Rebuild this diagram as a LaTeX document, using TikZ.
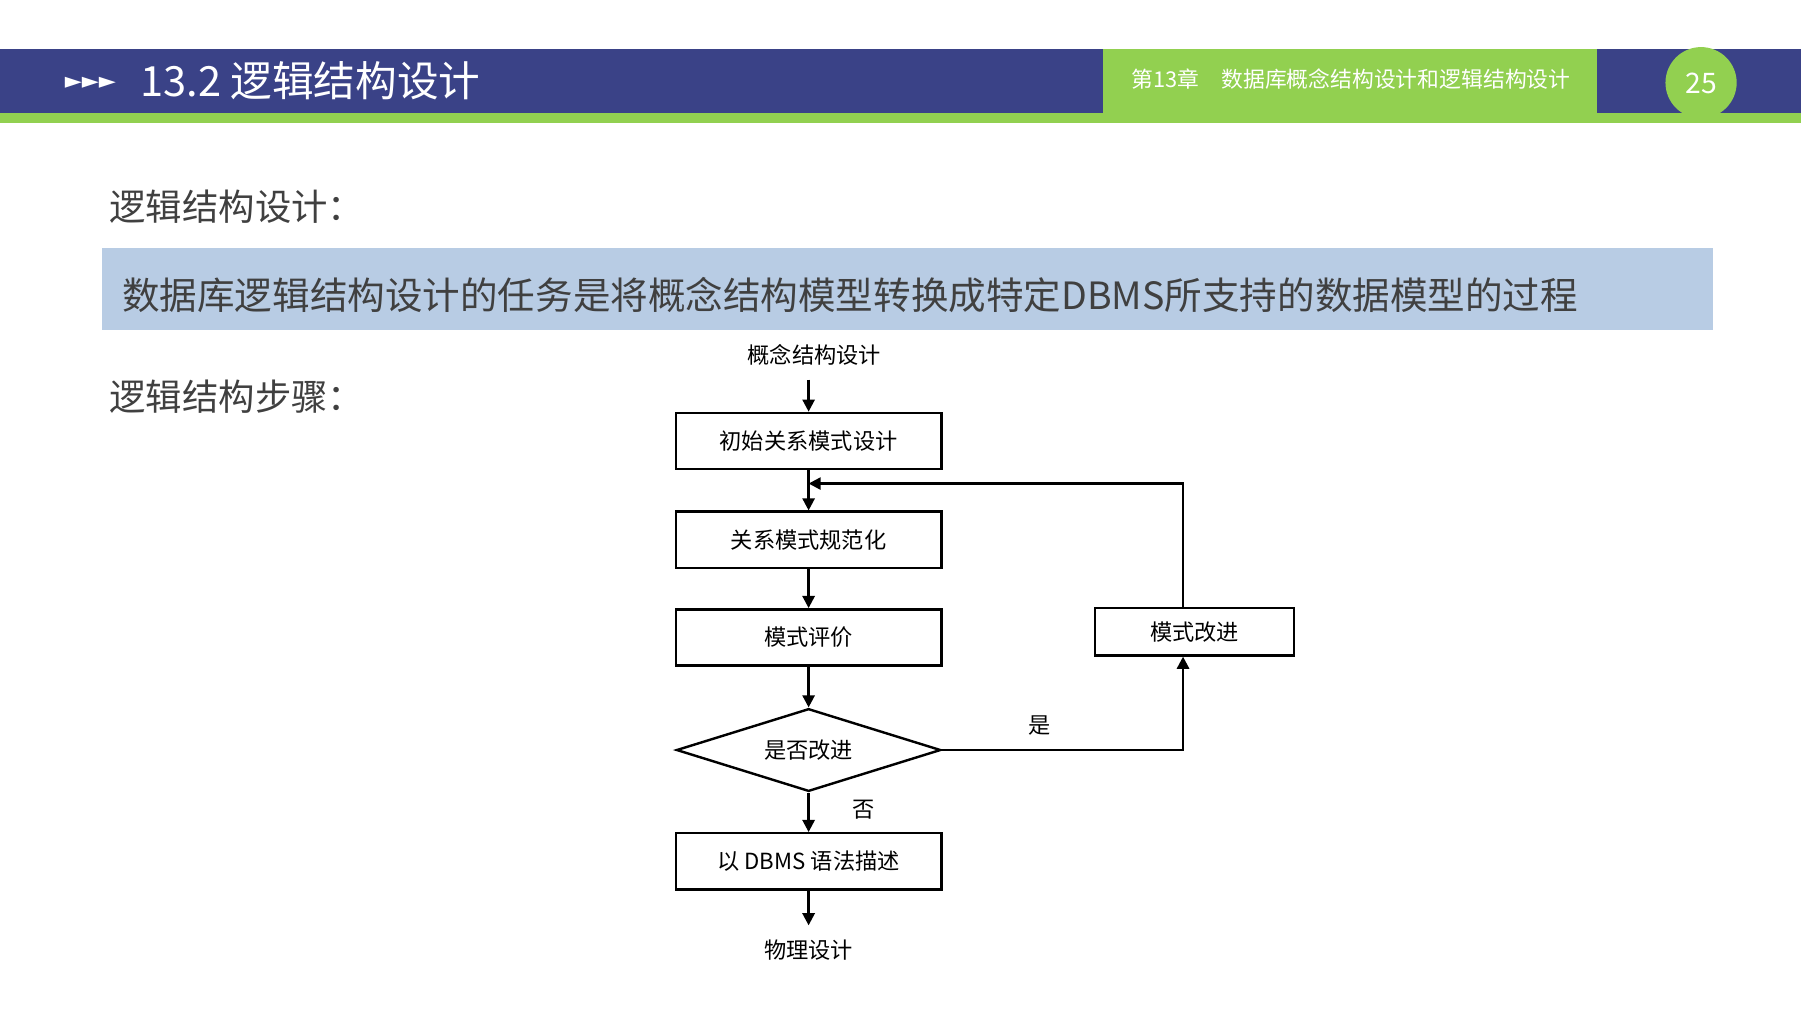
\documentclass[tikz,border=0pt]{standalone}
\usepackage{fontspec}
\setmainfont{Liberation Serif}
\newfontfamily\cjk{Noto Sans CJK SC}
\newfontfamily\sym{DejaVu Sans}
\usetikzlibrary{arrows.meta,shapes.geometric,positioning}
\definecolor{barblue}{HTML}{3A4287}
\definecolor{bargreen}{HTML}{92D050}
\definecolor{boxblue}{HTML}{B8CCE4}
\tikzset{
  stage/.style={draw, semithick, minimum width=2.31cm, minimum height=0.49cm, font=\cjk\fontsize{5.5}{6}\selectfont},
  flow/.style={-{Triangle[length=3pt,width=3pt]}, semithick},
  lab/.style={font=\cjk\fontsize{5.5}{6}\selectfont},
  body/.style={font=\cjk\fontsize{9}{10}\selectfont, text=black!75, anchor=west}
}
\begin{document}
\begin{tikzpicture}[x=0.01cm,y=-0.01cm]
  \useasboundingbox (0,0) rectangle (1568,882);
  % header
  \fill[bargreen] (0,43) rectangle (1568,107);
  \fill[barblue] (0,43) rectangle (1568,98);
  \fill[bargreen] (960,43) rectangle (1390,98);
  \fill[bargreen] (1481,72) circle (31);
  \node[anchor=west, text=white, font=\sym\fontsize{5.5}{6}\selectfont] (marks) at (44,72) {►►►};
  \node[anchor=west, text=white, font=\cjk\fontsize{10.3}{11}\selectfont] (title) at (110,70) {13.2 逻辑结构设计};
  \node[anchor=west, text=white, font=\cjk\fontsize{5.4}{6}\selectfont] (chap) at (973,69) {第13章\quad 数据库概念结构设计和逻辑结构设计};
  \node[text=white, font=\cjk\fontsize{7}{8}\selectfont] (page) at (1481,73) {25};
  % body
  \node[body] (h1) at (83,180) {逻辑结构设计：};
  \fill[boxblue] (89,216) rectangle (1491,287);
  \node[body, font=\cjk\fontsize{9.3}{10}\selectfont] (task) at (94,257) {数据库逻辑结构设计的任务是将概念结构模型转换成特定DBMS所支持的数据模型的过程};
  \node[body] (h2) at (83,345) {逻辑结构步骤：};
  % flowchart
  \node[lab] (start) at (709,309) {概念结构设计};
  \node[stage] (init) at (704,384) {初始关系模式设计};
  \node[stage] (norm) at (704,470) {关系模式规范化};
  \node[stage] (eval) at (704,555) {模式评价};
  \node[draw, semithick, diamond, aspect=3.2, minimum width=2.3cm, minimum height=0.72cm, inner sep=0pt, lab] (dec) at (704,653) {是否改进};
  \node[stage] (dbms) at (704,750) {以 DBMS 语法描述};
  \node[lab] (phys) at (704,827) {物理设计};
  \node[draw, semithick, minimum width=1.73cm, minimum height=0.37cm, lab] (impr) at (1040,550) {模式改进};
  \coordinate (join) at (704,421);
  \draw[flow] (init.north |- start.south) -- (init);
  \draw[flow] (init) -- (norm);
  \draw[flow] (norm) -- (eval);
  \draw[flow] (eval) -- (dec);
  \draw[flow] (dec) -- (dbms);
  \draw[flow] (dbms) -- (phys);
  \draw[flow] (dec.east) -| ([xshift=-0.1cm]impr.south);
  \draw[flow] ([xshift=-0.1cm]impr.north) |- (join);
  \node[lab] (yes) at (905,632) {是};
  \node[lab] (no) at (752,705) {否};
\end{tikzpicture}
\end{document}
